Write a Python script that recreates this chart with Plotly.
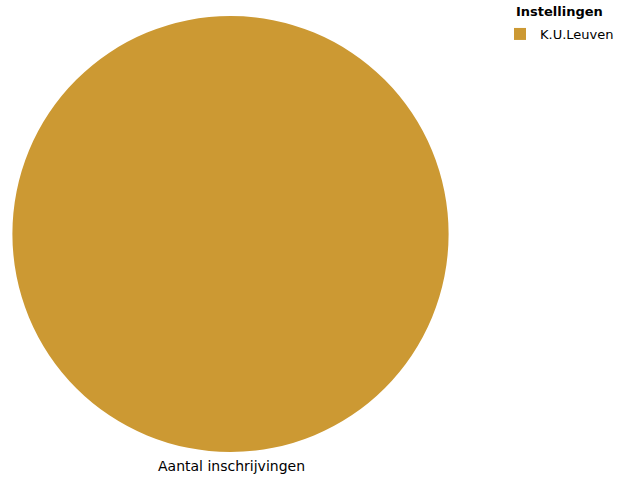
import plotly.graph_objects as go

categories = ["K.U.Leuven"]
values = [100]
colors = ["#CC9933"]
legend_title = "Instellingen"
pie_label = "Aantal inschrijvingen"

W, H = 627, 477


def px(x):
    return x / W


def py(y):
    return 1 - y / H


fig = go.Figure()
fig.add_trace(go.Pie(
    labels=categories,
    values=values,
    marker=dict(colors=colors, line=dict(width=0)),
    textinfo="none",
    sort=False,
    domain=dict(x=[px(12), px(449)], y=[py(452), py(16)]),
    showlegend=True,
))
fig.add_annotation(
    text=pie_label, x=px(231), y=py(466), xref="paper", yref="paper",
    showarrow=False, xanchor="center", yanchor="middle",
    font=dict(family="DejaVu Sans", size=14, color="#000000"),
)
fig.add_annotation(
    text="<b>" + legend_title + "</b>", x=px(514), y=py(11.5), xref="paper", yref="paper",
    showarrow=False, xanchor="left", yanchor="middle",
    font=dict(family="DejaVu Sans", size=13, color="#000000"),
)
fig.update_layout(
    width=W, height=H,
    margin=dict(l=0, r=0, t=0, b=0),
    paper_bgcolor="white", plot_bgcolor="white",
    font=dict(family="DejaVu Sans", size=13, color="#000000"),
    legend=dict(
        x=px(500), y=py(19), xanchor="left", yanchor="top",
        font=dict(size=13), itemsizing="constant",
    ),
)
fig.write_html(
    "out.html",
    config={"displayModeBar": False},
    post_script="document.body.style.margin='0';document.body.style.overflow='hidden';",
)
